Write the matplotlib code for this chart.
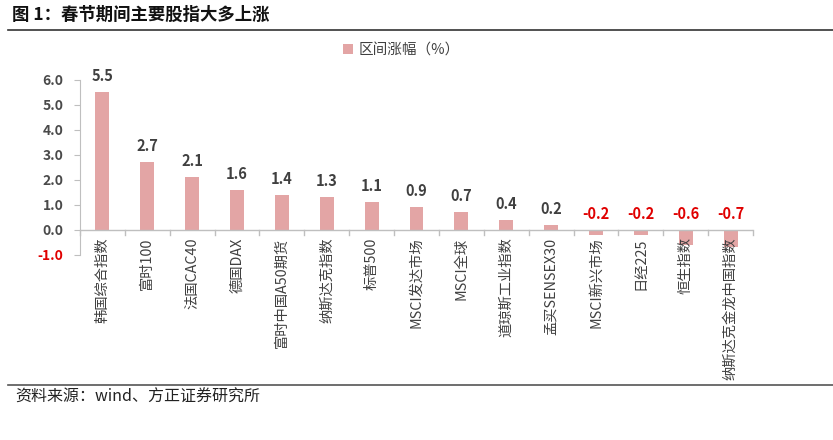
import matplotlib
matplotlib.use("Agg")
import matplotlib.pyplot as plt
from matplotlib.lines import Line2D
from matplotlib.patches import Patch

plt.rcParams['font.family'] = ['Noto Sans CJK SC', 'DejaVu Sans']

categories = ["韩国综合指数", "富时100", "法国CAC40", "德国DAX", "富时中国A50期货",
              "纳斯达克指数", "标普500", "MSCI发达市场", "MSCI全球", "道琼斯工业指数",
              "孟买SENSEX30", "MSCI新兴市场", "日经225", "恒生指数", "纳斯达克金龙中国指数"]
values = [5.5, 2.7, 2.1, 1.6, 1.4, 1.3, 1.1, 0.9, 0.7, 0.4, 0.2, -0.2, -0.2, -0.6, -0.7]
yticks = [-1.0, 0.0, 1.0, 2.0, 3.0, 4.0, 5.0, 6.0]
series_name = "区间涨幅（%）"
title = "图 1：春节期间主要股指大多上涨"
source = "资料来源：wind、方正证券研究所"

bar_color = "#E3A5A5"
red = "#E00000"
dark = "#404040"

fig = plt.figure(figsize=(8.33, 4.4), dpi=100)
ax = fig.add_axes([0.096, 0.4205, 0.808, 0.398])

x = list(range(len(categories)))
ax.bar(x, values, width=0.31, color=bar_color, zorder=2)
ax.set_xlim(-0.5, len(categories) - 0.5)
ax.set_ylim(-1.0, 6.0)
ax.set_yticks(yticks)
ax.set_yticklabels([f"{t:.1f}" for t in yticks], fontsize=10, fontweight='bold', color="#4a4a4a")
for lbl, t in zip(ax.get_yticklabels(), yticks):
    if t < 0:
        lbl.set_color(red)
ax.tick_params(axis='y', length=4, color="#BFBFBF", pad=8)

for s in ['top', 'right', 'bottom']:
    ax.spines[s].set_visible(False)
ax.spines['left'].set_color("#BFBFBF")
ax.axhline(0, color="#BFBFBF", lw=1, zorder=3)
ax.set_xticks([])
# category separator ticks on zero line
for b in [i + 0.5 for i in range(-1, len(categories))]:
    ax.plot([b, b], [0, -0.2], color="#BFBFBF", lw=1, clip_on=False, zorder=3)

for xi, v, c in zip(x, values, categories):
    col = red if v < 0 else dark
    ax.text(xi, max(v, 0) + 0.32, f"{v:.1f}", ha='center', va='bottom',
            fontsize=10.5, fontweight='bold', color=col)
    ax.text(xi, -0.3, c, rotation=90, ha='center', va='top', fontsize=10.3,
            fontweight='medium', color=dark)

ax.legend(handles=[Patch(facecolor=bar_color, edgecolor='none')], labels=[series_name],
          loc='center', bbox_to_anchor=(0.482, 0.886), bbox_transform=fig.transFigure,
          frameon=False, fontsize=10.5, handlelength=0.7, handleheight=0.7, handletextpad=0.4,
          labelcolor=dark)

fig.text(0.015, 0.966, title, fontsize=12.5, fontweight='bold', va='center', ha='left', color="#111111")
fig.add_artist(Line2D([0.01, 1.0], [0.932, 0.932], color="#333333", lw=1.2))
fig.add_artist(Line2D([0.01, 1.0], [0.125, 0.125], color="#555555", lw=1.2))
fig.text(0.018, 0.098, source, fontsize=11.5, va='center', ha='left', color="#222222")

fig.savefig("out.png", dpi=100)
